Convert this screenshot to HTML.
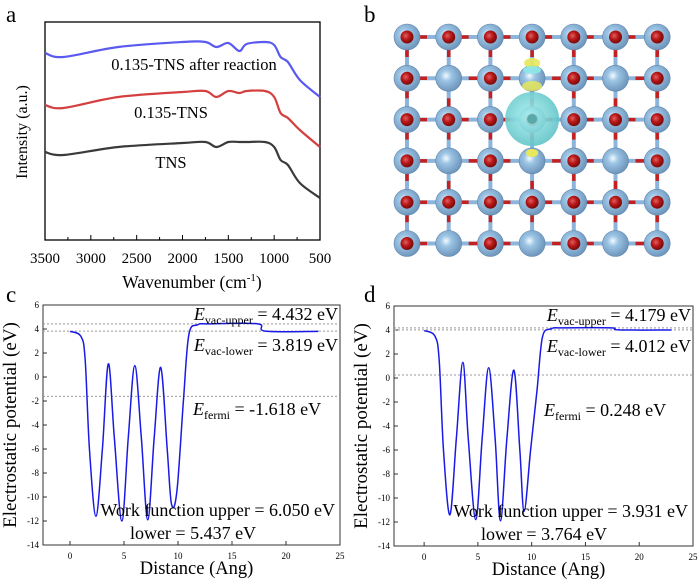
<!DOCTYPE html>
<html><head><meta charset="utf-8"><style>
body{margin:0;background:#fff;}
svg{display:block;font-family:"Liberation Serif",serif;}
</style></head><body>
<svg id="fig" width="700" height="584" viewBox="0 0 700 584" xmlns="http://www.w3.org/2000/svg">
<text x="6" y="22" font-size="23">a</text>
<text x="364" y="22" font-size="23">b</text>
<text x="6" y="302" font-size="23">c</text>
<text x="364" y="302" font-size="23">d</text>
<g id="pa"></g>
<g id="pb"></g>
<g id="pc"></g>
<g id="pd"></g>
</svg>
<script>
// ---- Panel a data ----
const ftirWn = [3500,3300,2700,2000,1750,1630,1500,1380,1300,1100,1000,930,850,720,500];
const ftirBlue = [187,183,193,198,198,193,197,189,196,198,195,183,178,160,143];
const ftirRed = [135,132,143,148,149,143,149,147,149,149,143,127,122,110,93];
const ftirBlack = [88,85,93,97,98,93,98,98,98,98,93,80,75,57,42];
const ftirTicks = [3500,3000,2500,2000,1500,1000,500];
// ---- Panel c data ----
const cX = [0,1,1.4,1.8,2.4,3,3.55,4.1,4.8,5.4,6,6.6,7.2,7.8,8.4,9,9.4,9.9,10.5,11,11.8,13,17.4,18.1,23];
const cY = [3.8,3.4,1.5,-6,-11.6,-6,1.1,-5,-12,-5,0.95,-5,-11.9,-5,0.8,-6,-10.6,-9.5,-2,3.5,4.35,4.43,4.43,3.82,3.8];
const cLevels = [4.432,3.819,-1.618];
// ---- Panel d data ----
const dX = [0,1,1.4,1.8,2.4,3,3.6,4.1,4.8,5.4,6,6.6,7.1,7.7,8.35,8.9,9.3,9.9,10.5,11,11.8,13,17.4,18.1,23];
const dY = [3.95,3.5,1.5,-6,-11.4,-5,1.3,-5,-11.8,-5,0.85,-5,-11.9,-5,0.65,-6,-11.1,-6,-1,3.4,4.1,4.18,4.18,4.01,4.0];
const dLevels = [4.179,4.012,0.248];
const potYTicks = [6,4,2,0,-2,-4,-6,-8,-10,-12,-14];
const potXTicks = [0,5,10,15,20,25];

const NS="http://www.w3.org/2000/svg";
function mk(parent,tag,attrs,text){const e=document.createElementNS(NS,tag);for(const k in attrs)e.setAttribute(k,attrs[k]);if(text!==undefined)e.textContent=text;parent.appendChild(e);return e;}
function smooth(pts){let d="M"+pts[0][0]+","+pts[0][1];for(let i=0;i<pts.length-1;i++){const p0=pts[i-1]||pts[i],p1=pts[i],p2=pts[i+1],p3=pts[i+2]||p2;const c1=[p1[0]+(p2[0]-p0[0])/6,p1[1]+(p2[1]-p0[1])/6],c2=[p2[0]-(p3[0]-p1[0])/6,p2[1]-(p3[1]-p1[1])/6];d+=" C"+c1[0]+","+c1[1]+" "+c2[0]+","+c2[1]+" "+p2[0]+","+p2[1];}return d;}

// Panel a
(function(){
const g=document.getElementById('pa');
const L=45,R=320,T=22,B=240;
const xs=v=>L+(3500-v)/3000*(R-L), ys=v=>B-v;
const box=mk(g,'rect',{x:L,y:T,width:R-L,height:B-T,fill:'none',stroke:'#000','stroke-width':1.3});

ftirTicks.forEach((t,i)=>{const x=xs(t);mk(g,'line',{x1:x,y1:B,x2:x,y2:B-5,stroke:'#000'});
 if(i<ftirTicks.length-1){const xm=xs(t-250);mk(g,'line',{x1:xm,y1:B,x2:xm,y2:B-3,stroke:'#000'});}
 const tl=mk(g,'text',{x:x,y:B+23,'font-size':15,'text-anchor':'middle'},String(t));
 });
const xt=mk(g,'text',{x:192,y:288,'font-size':17.5,'text-anchor':'middle'});xt.innerHTML='Wavenumber (cm<tspan font-size="11" dy="-7">-1</tspan><tspan dy="7">)</tspan>';

const yt=mk(g,'text',{x:0,y:0,'font-size':16,'text-anchor':'middle',transform:'translate(27,132) rotate(-90)'},'Intensity (a.u.)');

[[ftirBlue,'#5a5af0','series-after-reaction'],[ftirRed,'#d44040','series-0135-tns'],[ftirBlack,'#3a3a3a','series-tns']].forEach(s=>{
 const p=mk(g,'path',{d:smooth(ftirWn.map((w,i)=>[xs(w),ys(s[0][i])])),fill:'none',stroke:s[1],'stroke-width':2.2});
 });
[['0.135-TNS after reaction',194,70,'label-after-reaction'],['0.135-TNS',171,118,'label-0135-tns'],['TNS',171,168,'label-tns']].forEach(l=>{
 const t=mk(g,'text',{x:l[1],y:l[2],'font-size':16.5,'text-anchor':'middle'},l[0]);
 });
})();

// Panel b
(function(){
const g=document.getElementById('pb');
const cx=c=>407+c*41.7, cy=r=>37+r*41.3;
mk(g,'defs',{}).innerHTML='<radialGradient id="gb" cx="0.4" cy="0.4" r="0.6"><stop offset="0" stop-color="#f2fbff"/><stop offset="0.35" stop-color="#9cc4e4"/><stop offset="1" stop-color="#6f97bd"/></radialGradient><radialGradient id="gr" cx="0.4" cy="0.4" r="0.6"><stop offset="0" stop-color="#e06060"/><stop offset="0.5" stop-color="#b81818"/><stop offset="1" stop-color="#7a0a0a"/></radialGradient><radialGradient id="gc" cx="0.45" cy="0.45" r="0.6"><stop offset="0" stop-color="#a8f0f0"/><stop offset="1" stop-color="#5cc0c4"/></radialGradient>';
const hasRed=(r,c)=>(r%2===0)||(c%2===0);
for(let r=0;r<6;r++)for(let c=0;c<7;c++){
 if(c<6){mk(g,'line',{x1:cx(c),y1:cy(r),x2:cx(c+1),y2:cy(r),stroke:'#8db4da','stroke-width':4});
  mk(g,'line',{x1:cx(c)+(hasRed(r,c)?0:20),y1:cy(r),x2:cx(c)+(hasRed(r,c)?20:41.7),y2:cy(r),stroke:'#c42020','stroke-width':3.5});}
 if(r<5){mk(g,'line',{x1:cx(c),y1:cy(r),x2:cx(c),y2:cy(r+1),stroke:'#8db4da','stroke-width':4});
  mk(g,'line',{x1:cx(c),y1:cy(r)+(hasRed(r,c)?0:20),x2:cx(c),y2:cy(r)+(hasRed(r,c)?20:41.3),stroke:'#c42020','stroke-width':3.5});}
}
for(let r=0;r<6;r++)for(let c=0;c<7;c++){
 const a=mk(g,'circle',{cx:cx(c),cy:cy(r),r:13,fill:'url(#gb)',stroke:'#5e86ad','stroke-width':0.6});
 
 if(hasRed(r,c)){const o=mk(g,'circle',{cx:cx(c),cy:cy(r),r:6.5,fill:'url(#gr)'});
  }
}
mk(g,'ellipse',{cx:cx(3),cy:63,rx:8,ry:5,fill:'#e8e85a',opacity:0.9});
mk(g,'ellipse',{cx:cx(3),cy:70,rx:9,ry:4,fill:'#8ee8e8',opacity:0.9});
mk(g,'ellipse',{cx:cx(3),cy:86,rx:10,ry:5,fill:'#e8e85a',opacity:0.85});
mk(g,'ellipse',{cx:cx(3),cy:153,rx:6,ry:4,fill:'#e8e85a'});
const s=mk(g,'circle',{cx:cx(3),cy:119,r:27,fill:'url(#gc)',opacity:0.9});

mk(g,'circle',{cx:cx(3),cy:119,r:5,fill:'#5aa8a8'});
})();

// Panels c, d
function potPanel(id,L,R,T,B,xmin,X,Y,lev,labels,wf){
const g=document.getElementById(id);
const xs=v=>L+(v-xmin)/(25-xmin)*(R-L), ys=v=>B-(v+14)/20*(B-T);
const box=mk(g,'rect',{x:L,y:T,width:R-L,height:B-T,fill:'none',stroke:'#333','stroke-width':1});

potYTicks.forEach(t=>{const y=ys(t);mk(g,'line',{x1:L,y1:y,x2:L+4,y2:y,stroke:'#333'});
 const tl=mk(g,'text',{x:L-4,y:y+3,'font-size':9,'text-anchor':'end'},String(t));
 });
potXTicks.forEach(t=>{const x=xs(t);mk(g,'line',{x1:x,y1:B,x2:x,y2:B-4,stroke:'#333'});
 const tl=mk(g,'text',{x:x,y:B+14,'font-size':9,'text-anchor':'middle'},String(t));
 });
lev.forEach(v=>{const l=mk(g,'line',{x1:L,y1:ys(v),x2:R,y2:ys(v),stroke:'#999','stroke-width':1,'stroke-dasharray':'2,2'});
 });
const p=mk(g,'path',{d:smooth(X.map((x,i)=>[xs(x),ys(Y[i])])),fill:'none',stroke:'#1a1ae6','stroke-width':1.5});

const xt=mk(g,'text',{x:(L+R)/2+5,y:B+29,'font-size':18.5,'text-anchor':'middle'},'Distance (Ang)');

const yt=mk(g,'text',{x:0,y:0,'font-size':19,'text-anchor':'middle',transform:'translate('+(L-27)+','+((T+B)/2)+') rotate(-90)'},'Electrostatic potential (eV)');

const a1=mk(g,'text',{x:R-2,y:T+15,'font-size':18,'text-anchor':'end'});a1.innerHTML='<tspan font-style="italic">E</tspan><tspan font-size="12" dy="4">vac-upper</tspan><tspan dy="-4"> = '+labels[0]+' eV</tspan>';

const a2=mk(g,'text',{x:R-2,y:T+46,'font-size':18,'text-anchor':'end'});a2.innerHTML='<tspan font-style="italic">E</tspan><tspan font-size="12" dy="4">vac-lower</tspan><tspan dy="-4"> = '+labels[1]+' eV</tspan>';

const a3=mk(g,'text',{x:L+150,y:T+110,'font-size':18});a3.innerHTML='<tspan font-style="italic">E</tspan><tspan font-size="12" dy="4">fermi</tspan><tspan dy="-4"> = '+labels[2]+' eV</tspan>';

const w1=mk(g,'text',{x:R-5,y:T+211,'font-size':18,'text-anchor':'end'},'Work function upper = '+wf[0]+' eV');

const w2=mk(g,'text',{x:L+150,y:T+234,'font-size':18,'text-anchor':'middle'},'lower = '+wf[1]+' eV');

}
potPanel('pc',43,340,305,545,-2.5,cX,cY,cLevels,['4.432','3.819','-1.618'],['6.050','5.437']);
potPanel('pd',394,693,306,546,-2.8,dX,dY,dLevels,['4.179','4.012','0.248'],['3.931','3.764']);
</script>
</body></html>
